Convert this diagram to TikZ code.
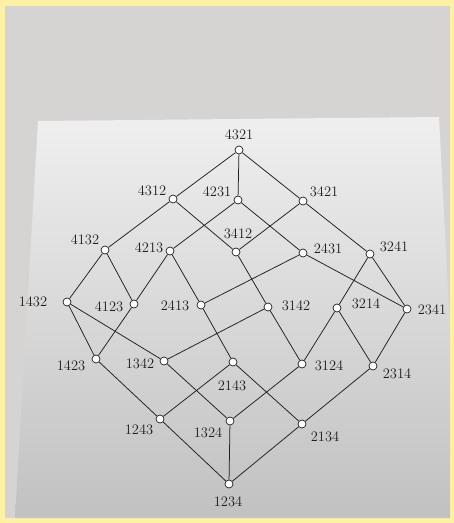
\documentclass[tikz,border=0pt]{standalone}
\usetikzlibrary{shadings}
\definecolor{frame}{HTML}{FFF1A3}
\definecolor{wall}{HTML}{D6D3D3}
\definecolor{papertop}{HTML}{EFEFEF}
\definecolor{paperbot}{HTML}{C2C1C1}
\definecolor{ink}{HTML}{1E1E1E}
\newcommand{\Vx}[5]{\node[vtx] (n#1) at (#2,-#3) {}; \node[lab] (t#1) at (#4,-#5) {#1};}
\begin{document}
\begin{tikzpicture}[x=1pt,y=1pt,
  vtx/.style={circle,draw=ink,fill=white,line width=0.7pt,inner sep=0pt,minimum size=8pt},
  lab/.style={text=ink,font=\fontsize{14.5}{16}\selectfont,inner sep=0pt},
  edge/.style={draw=ink,line width=0.75pt}]
\useasboundingbox (0,0) rectangle (454,-523);
\fill[frame] (0,0) rectangle (454,-523);
\fill[wall] (5,-6) rectangle (450,-518);
\shade[top color=papertop,bottom color=paperbot] (38,-121) -- (439,-117) -- (450,-330) -- (450,-518) -- (15,-518) -- cycle;
\begin{scope}
\Vx{4321}{239}{150}{239}{135}
\Vx{4312}{173}{199}{152}{191}
\Vx{4231}{238}{200}{217}{192}
\Vx{3421}{303}{201}{324}{192}
\Vx{4132}{105}{250}{85}{240}
\Vx{4213}{170}{251}{149}{248}
\Vx{3412}{236}{252}{238}{234}
\Vx{2431}{303}{253}{328}{249}
\Vx{3241}{370}{254}{394}{247}
\Vx{1432}{67}{302}{33}{302}
\Vx{4123}{134}{304}{109}{307}
\Vx{2413}{201}{305}{175}{306}
\Vx{3142}{268}{307}{296}{306}
\Vx{3214}{337}{308}{366}{304}
\Vx{2341}{407}{309}{432}{310}
\Vx{1423}{96}{359}{71}{366}
\Vx{1342}{164}{361}{140}{364}
\Vx{2143}{233}{362}{232}{386}
\Vx{3124}{302}{364}{329}{366}
\Vx{2314}{373}{366}{397}{374}
\Vx{1243}{160}{419}{139}{430}
\Vx{1324}{230}{421}{208}{433}
\Vx{2134}{302}{424}{325}{437}
\Vx{1234}{229}{484}{228}{502}
\end{scope}
\foreach \a/\b in {4321/4312,4321/4231,4321/3421,
  4312/4132,4312/3412,4231/4213,4231/2431,3421/3412,3421/3241,
  4132/1432,4132/4123,4213/4123,4213/2413,3412/3142,
  2431/2413,2431/2341,3241/3214,3241/2341,
  1432/1423,1432/1342,4123/1423,2413/2143,3142/1342,3142/3124,
  3214/3124,3214/2314,2341/2314,
  1423/1243,1342/1324,2143/1243,2143/2134,3124/1324,2314/2134,
  1243/1234,1324/1234,2134/1234}
  \draw[edge] (n\a) -- (n\b);
\end{tikzpicture}
\end{document}
